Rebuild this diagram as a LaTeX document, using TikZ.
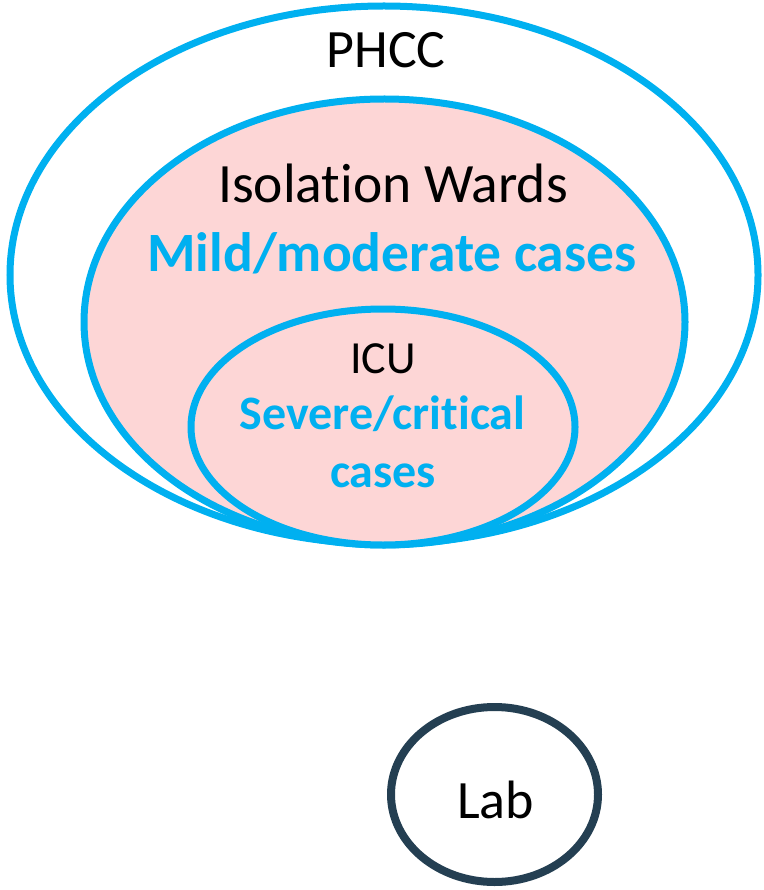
\documentclass[tikz,border=0pt]{standalone}
\usepackage{fontspec}
\setmainfont{Carlito}[Ligatures=NoCommon, RawFeature={-clig;-calt;-dlig}]
\usepackage{xcolor}
\usetikzlibrary{shapes,positioning}

\definecolor{zoneblue}{HTML}{00B0F0}
\definecolor{zonepink}{HTML}{FDD6D6}
\definecolor{labslate}{HTML}{243F52}

\begin{document}
\begin{tikzpicture}[
    x=1pt, y=-1pt,
    zone/.style={draw=zoneblue, ellipse, line width=7pt, inner sep=0pt},
    title/.style={anchor=base, inner sep=0pt, font=\fontsize{54}{60}\selectfont},
    small/.style={anchor=base, inner sep=0pt, font=\fontsize{46}{56}\selectfont},
    cases/.style={anchor=base, inner sep=0pt, text=zoneblue, font=\fontsize{48}{58}\selectfont\bfseries}
]
    \useasboundingbox (0,0) rectangle (763,890);

    % Zones
    \node[zone, fill=white, minimum width=748pt, minimum height=538pt] (phccz) at (384,275) {};
    \node[zone, fill=zonepink, minimum width=601pt, minimum height=446pt] (wardz) at (384.5,322) {};
    \node[zone, fill=zonepink, minimum width=384pt, minimum height=236pt] (icuz) at (383,427) {};
    \node[ellipse, draw=labslate, line width=8pt, inner sep=0pt, minimum width=207pt, minimum height=175pt] (labz) at (494.5,794.5) {};

    % Labels
    \node[title] (phcc) at (386,68) {PHCC};
    \node[title, font=\fontsize{55.5}{60}\selectfont] (ward) at (393,203) {Isolation Wards};
    \node[cases, font=\fontsize{55.5}{60}\selectfont\bfseries] (mild) at (392,272) {Mild/moderate cases};
    \node[small] (icu) at (383,373) {ICU};
    \node[cases] (severe) at (382.5,429) {Severe/critical};
    \node[cases] (sevcases) at (383,487) {cases};
    \node[title] (lab) at (495.5,818) {Lab};

\end{tikzpicture}
\end{document}
